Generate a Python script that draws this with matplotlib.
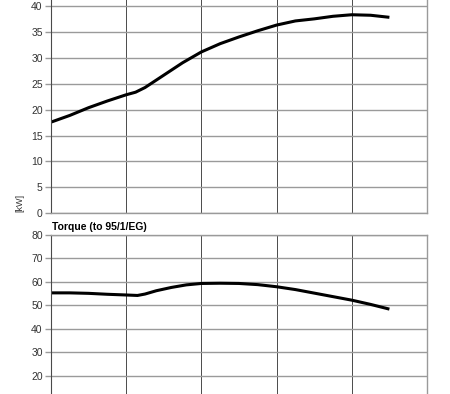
import matplotlib
matplotlib.use("Agg")
import matplotlib.pyplot as plt
import numpy as np

plt.rcParams['font.family'] = ['Liberation Sans', 'DejaVu Sans']

rpm_power = [1000, 1250, 1500, 1750, 2000, 2125, 2250, 2375, 2500, 2750, 3000, 3250, 3500,
             3750, 4000, 4250, 4500, 4750, 5000, 5250, 5500]
power_kw = [17.6, 18.9, 20.4, 21.7, 22.9, 23.4, 24.3, 25.5, 26.7, 29.1, 31.2, 32.8, 34.1,
            35.3, 36.4, 37.2, 37.6, 38.1, 38.4, 38.3, 37.9]

rpm_torque = [1000, 1250, 1500, 1750, 2000, 2150, 2250, 2400, 2600, 2800, 3000, 3250,
              3500, 3750, 4000, 4250, 4500, 4750, 5000, 5250, 5500]
torque = [55.3, 55.3, 55.1, 54.7, 54.4, 54.2, 54.8, 56.2, 57.6, 58.7, 59.3, 59.4,
          59.3, 58.8, 57.9, 56.7, 55.2, 53.7, 52.2, 50.4, 48.4]

power_ticks = [0, 5, 10, 15, 20, 25, 30, 35, 40]
torque_ticks = [0, 10, 20, 30, 40, 50, 60, 70, 80]
rpm_ticks = [1000, 2000, 3000, 4000, 5000, 6000]

W, H = 450, 394
fig = plt.figure(figsize=(W / 100, H / 100), dpi=100)


def px_axes(left, right, top, bottom):
    return fig.add_axes([left / W, 1 - bottom / H, (right - left) / W, (bottom - top) / H])


# upper axes: 0 at y=213, 5.16 px per kW, ylim 0..45
ax1 = px_axes(51, 427, 213 - 45 * 5.163, 213)
# lower axes: 80 at y=234.7, 2.355 px per Nm, ylim 0..80
ax2 = px_axes(51, 427, 234.7, 234.7 + 80 * 2.355)

hgrid = '#9a9a9a'
vgrid = '#4a4a4a'

for ax, ticks, ylim in [(ax1, power_ticks, (0, 45)), (ax2, torque_ticks, (0, 80))]:
    ax.set_xlim(1000, 6000)
    ax.set_ylim(*ylim)
    ax.set_xticks(rpm_ticks)
    ax.set_yticks(ticks)
    ax.tick_params(axis='x', length=0, labelbottom=False)
    ax.tick_params(axis='y', length=4, width=1.0, color=hgrid, labelsize=7.5,
                   labelcolor='#333333', pad=2)
    ax.grid(axis='y', color=hgrid, linewidth=1.0)
    ax.grid(axis='x', color=vgrid, linewidth=0.7)
    ax.set_axisbelow(True)
    ax.spines['left'].set_color(vgrid)
    ax.spines['left'].set_linewidth(0.8)
    ax.spines['right'].set_color(hgrid)
    ax.spines['right'].set_linewidth(1.0)
    ax.spines['top'].set_color(hgrid)
    ax.spines['top'].set_linewidth(1.0)
    ax.spines['bottom'].set_color(hgrid)
    ax.spines['bottom'].set_linewidth(1.0)

ax1.plot(rpm_power, power_kw, color='black', linewidth=2.2, solid_capstyle='butt',
         solid_joinstyle='round')
ax2.plot(rpm_torque, torque, color='black', linewidth=2.2, solid_capstyle='butt',
         solid_joinstyle='round')

fig.text(52 / W, 1 - 227 / H, 'Torque (to 95/1/EG)', fontsize=7.5, fontweight='bold',
         ha='left', va='center', color='black')
fig.text(20 / W, 1 - 203 / H, '[kW]', fontsize=6.5, rotation=90, ha='center',
         va='center', color='#333333')

fig.savefig('out.png', dpi=100)
